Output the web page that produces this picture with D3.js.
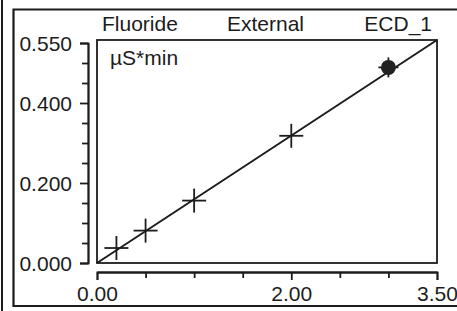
<!DOCTYPE html>
<html>
<head>
<meta charset="utf-8">
<script src="https://cdn.jsdelivr.net/npm/d3@7"></script>
<style>
  body { margin: 0; background: #fff; }
  text { font-family: "Liberation Sans", Arial, sans-serif; fill: #1c1c1c; }
</style>
</head>
<body>
<div id="chart"></div>
<script>
// calibration standards (amount) and peak areas (uS*min)
var amounts = [0.2, 0.5, 1.0, 2.0];
var areas = [0.0375, 0.081, 0.156, 0.318];
// the sample point, drawn filled
var sampleAmount = [3.0];
var sampleArea = [0.489];
// calibration line ends
var fitX = [0, 3.5];
var fitY = [0, 0.5575];

var xTicks = [0, 2, 3.5];
var xMinor = [0.5, 1, 1.5, 2.5, 3];
var yTicks = [0, 0.2, 0.4, 0.55];
var yMinor = [0.05, 0.1, 0.15, 0.25, 0.3, 0.35, 0.45, 0.5];

var titleParts = ["Fluoride", "External", "ECD_1"];
var unitLabel = "µS*min";

var svgWidth = 457;
var svgHeight = 311;
var ink = "#1c1c1c";

var svg = d3.select("#chart")
  .append("svg")
  .attr("width", svgWidth)
  .attr("height", svgHeight);

// plot area
var plot = { left: 97, right: 437, bottom: 263 };

var xScale = d3.scaleLinear()
  .domain([0, 3.5])
  .range([plot.left, plot.right]);

var yScale = d3.scaleLinear()
  .domain([0, 0.55])
  .range([plot.bottom, 43]);

var plotTop = yScale(0.5575);

// outer frames
svg.append("line")
  .attr("x1", 2).attr("x2", 2)
  .attr("y1", 0).attr("y2", svgHeight)
  .attr("stroke", ink).attr("stroke-width", 2);

svg.append("path")
  .attr("d", "M" + (svgWidth + 5) + ",9.5H13.5V306H" + (svgWidth + 5))
  .attr("fill", "none")
  .attr("stroke", ink).attr("stroke-width", 2.2);

// plot box
svg.append("rect")
  .attr("x", plot.left)
  .attr("y", plotTop)
  .attr("width", plot.right - plot.left)
  .attr("height", plot.bottom - plotTop)
  .attr("fill", "none")
  .attr("stroke", ink).attr("stroke-width", 1.8);

// y axis
var yAxisG = svg.append("g")
  .attr("transform", "translate(88,0)")
  .call(d3.axisLeft(yScale)
    .tickValues(yTicks)
    .tickSize(8)
    .tickSizeOuter(8)
    .tickPadding(8)
    .tickFormat(d3.format(".3f")));

svg.append("g")
  .attr("transform", "translate(88,0)")
  .call(d3.axisLeft(yScale)
    .tickValues(yMinor)
    .tickSize(6)
    .tickSizeOuter(0)
    .tickFormat(""));

// x axis
var xAxisG = svg.append("g")
  .attr("transform", "translate(0,272)")
  .call(d3.axisBottom(xScale)
    .tickValues(xTicks)
    .tickSize(8)
    .tickSizeOuter(8)
    .tickPadding(6)
    .tickFormat(d3.format(".2f")));

svg.append("g")
  .attr("transform", "translate(0,272)")
  .call(d3.axisBottom(xScale)
    .tickValues(xMinor)
    .tickSize(6)
    .tickSizeOuter(0)
    .tickFormat(""));

svg.selectAll(".domain, .tick line")
  .attr("stroke", ink)
  .attr("stroke-width", 1.8);

svg.selectAll(".tick text")
  .style("font-size", "21px")
  .attr("fill", ink);

yAxisG.selectAll(".tick text").attr("dy", "0.36em");

// calibration line
var line = d3.line()
  .x(d => xScale(d[0]))
  .y(d => yScale(d[1]));

svg.append("path")
  .datum(fitX.map((v, i) => [v, fitY[i]]))
  .attr("d", line)
  .attr("fill", "none")
  .attr("stroke", ink)
  .attr("stroke-width", 2);

// standards as crosses
function drawCross(g, cx, cy, r) {
  g.append("line")
    .attr("x1", cx - r).attr("x2", cx + r)
    .attr("y1", cy).attr("y2", cy)
    .attr("stroke", ink).attr("stroke-width", 1.8);
  g.append("line")
    .attr("x1", cx).attr("x2", cx)
    .attr("y1", cy - r).attr("y2", cy + r)
    .attr("stroke", ink).attr("stroke-width", 1.8);
}

var pointsG = svg.append("g");
amounts.forEach(function(a, i) {
  drawCross(pointsG, xScale(a), yScale(areas[i]), 12);
});

sampleAmount.forEach(function(a, i) {
  var cx = xScale(a), cy = yScale(sampleArea[i]);
  drawCross(pointsG, cx, cy, 10);
  pointsG.append("circle")
    .attr("cx", cx).attr("cy", cy)
    .attr("r", 7.5)
    .attr("fill", "#222");
});

// title and unit
svg.append("text")
  .attr("x", 102).attr("y", 31)
  .style("font-size", "21px")
  .text(titleParts[0]);

svg.append("text")
  .attr("x", 227).attr("y", 31)
  .style("font-size", "21px")
  .text(titleParts[1]);

svg.append("text")
  .attr("x", 432).attr("y", 31)
  .attr("text-anchor", "end")
  .style("font-size", "21px")
  .text(titleParts[2]);

svg.append("text")
  .attr("x", 110).attr("y", 65)
  .style("font-size", "21px")
  .text(unitLabel);
</script>
</body>
</html>
